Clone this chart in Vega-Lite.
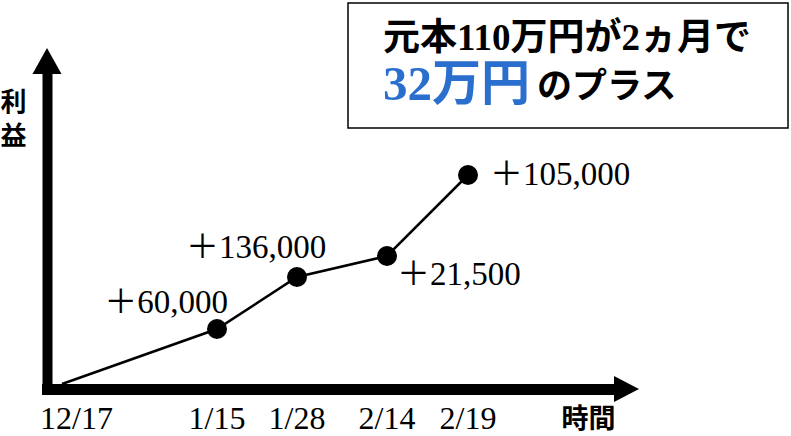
{
  "$schema": "https://vega.github.io/schema/vega-lite/v6.json",
  "description": "元本110万円が2ヵ月で32万円のプラス",
  "width": 568,
  "height": 315,
  "autosize": {"type": "none"},
  "padding": {"left": 47, "top": 74, "right": 176, "bottom": 47},
  "background": "white",
  "config": {"view": {"stroke": null}},
  "data": {
    "values": [
      {"kind": "profit", "date": "12/17", "pos": 15, "level": 5, "gain": ""},
      {"kind": "profit", "date": "1/15", "pos": 170, "level": 60, "gain": "＋60,000"},
      {"kind": "profit", "date": "1/28", "pos": 250, "level": 112, "gain": "＋136,000"},
      {"kind": "profit", "date": "2/14", "pos": 340, "level": 133, "gain": "＋21,500"},
      {"kind": "profit", "date": "2/19", "pos": 421, "level": 214, "gain": "＋105,000"},
      {"kind": "note", "id": "line1", "text": "元本110万円が2ヵ月で"},
      {"kind": "note", "id": "amount", "text": "32万円"},
      {"kind": "note", "id": "tail", "text": "のプラス"}
    ]
  },
  "layer": [
    {
      "transform": [{"filter": "datum.id == 'line1'"}],
      "mark": {"type": "rect", "fill": "white", "stroke": "black", "strokeWidth": 1.5},
      "encoding": {
        "x": {"datum": 301}, "x2": {"datum": 741},
        "y": {"datum": 386}, "y2": {"datum": 261}
      }
    },
    {
      "transform": [{"filter": "datum.id == 'line1'"}],
      "mark": {"type": "text", "align": "left", "baseline": "alphabetic", "font": "Liberation Serif, Noto Sans CJK JP", "fontSize": 37, "fontWeight": "bold", "color": "black"},
      "encoding": {"x": {"datum": 336}, "y": {"datum": 339}, "text": {"field": "text"}}
    },
    {
      "transform": [{"filter": "datum.id == 'amount'"}],
      "mark": {"type": "text", "align": "left", "baseline": "alphabetic", "font": "Liberation Serif, Noto Sans CJK JP", "fontSize": 49, "fontWeight": "bold", "color": "#2b6fce"},
      "encoding": {"x": {"datum": 336}, "y": {"datum": 289}, "text": {"field": "text"}}
    },
    {
      "transform": [{"filter": "datum.id == 'tail'"}],
      "mark": {"type": "text", "align": "left", "baseline": "alphabetic", "font": "Noto Sans CJK JP", "fontSize": 35, "fontWeight": "bold", "color": "black"},
      "encoding": {"x": {"datum": 490}, "y": {"datum": 291}, "text": {"field": "text"}}
    },
    {
      "transform": [{"filter": "datum.kind == 'profit'"}],
      "mark": {"type": "line", "color": "black", "strokeWidth": 2.5},
      "encoding": {
        "x": {
          "field": "pos", "type": "quantitative", "title": "時間",
          "scale": {"domain": [0, 568], "nice": false, "zero": false},
          "axis": {
            "labels": false, "ticks": false, "grid": false,
            "domainColor": "black", "domainWidth": 11, "domainCap": "square",
            "titleFont": "Noto Sans CJK JP", "titleFontSize": 27, "titleFontWeight": "bold",
            "titleColor": "black", "titleAlign": "center", "titleBaseline": "alphabetic",
            "titleX": 541, "titleY": 38
          }
        },
        "y": {
          "field": "level", "type": "quantitative", "title": ["利", "益"],
          "scale": {"domain": [0, 315], "nice": false, "zero": false},
          "axis": {
            "labels": false, "ticks": false, "grid": false,
            "domainColor": "black", "domainWidth": 10, "domainCap": "square",
            "titleFont": "Noto Sans CJK JP", "titleFontSize": 26, "titleFontWeight": "bold",
            "titleColor": "black", "titleAngle": 0, "titleAlign": "center", "titleBaseline": "alphabetic",
            "titleLineHeight": 34, "titleX": -34, "titleY": 36
          }
        }
      }
    },
    {
      "transform": [{"filter": "datum.kind == 'profit' && datum.gain != ''"}],
      "mark": {"type": "point", "shape": "circle", "filled": true, "opacity": 1, "color": "black", "size": 400},
      "encoding": {
        "x": {"field": "pos", "type": "quantitative", "title": "時間"},
        "y": {"field": "level", "type": "quantitative", "title": ["利", "益"]}
      }
    },
    {
      "transform": [{"filter": "datum.date == '1/15'"}],
      "mark": {"type": "text", "align": "center", "baseline": "alphabetic", "dx": -51, "dy": -16, "font": "Liberation Serif, Noto Sans CJK JP", "fontSize": 33, "color": "black"},
      "encoding": {
        "x": {"field": "pos", "type": "quantitative", "title": "時間"},
        "y": {"field": "level", "type": "quantitative", "title": ["利", "益"]},
        "text": {"field": "gain"}
      }
    },
    {
      "transform": [{"filter": "datum.date == '1/28'"}],
      "mark": {"type": "text", "align": "center", "baseline": "alphabetic", "dx": -41, "dy": -19, "font": "Liberation Serif, Noto Sans CJK JP", "fontSize": 33, "color": "black"},
      "encoding": {
        "x": {"field": "pos", "type": "quantitative", "title": "時間"},
        "y": {"field": "level", "type": "quantitative", "title": ["利", "益"]},
        "text": {"field": "gain"}
      }
    },
    {
      "transform": [{"filter": "datum.date == '2/14'"}],
      "mark": {"type": "text", "align": "left", "baseline": "alphabetic", "dx": 10, "dy": 29, "font": "Liberation Serif, Noto Sans CJK JP", "fontSize": 33, "color": "black"},
      "encoding": {
        "x": {"field": "pos", "type": "quantitative", "title": "時間"},
        "y": {"field": "level", "type": "quantitative", "title": ["利", "益"]},
        "text": {"field": "gain"}
      }
    },
    {
      "transform": [{"filter": "datum.date == '2/19'"}],
      "mark": {"type": "text", "align": "left", "baseline": "alphabetic", "dx": 22, "dy": 10, "font": "Liberation Serif, Noto Sans CJK JP", "fontSize": 33, "color": "black"},
      "encoding": {
        "x": {"field": "pos", "type": "quantitative", "title": "時間"},
        "y": {"field": "level", "type": "quantitative", "title": ["利", "益"]},
        "text": {"field": "gain"}
      }
    },
    {
      "transform": [{"filter": "datum.kind == 'profit' && datum.date != '12/17'"}],
      "mark": {"type": "text", "align": "center", "baseline": "alphabetic", "dy": 40, "font": "Liberation Serif", "fontSize": 32, "color": "black"},
      "encoding": {
        "x": {"field": "pos", "type": "quantitative", "title": "時間"},
        "y": {"datum": 0},
        "text": {"field": "date"}
      }
    },
    {
      "transform": [{"filter": "datum.date == '12/17'"}],
      "mark": {"type": "text", "align": "left", "baseline": "alphabetic", "dx": -22, "dy": 40, "font": "Liberation Serif", "fontSize": 32, "color": "black"},
      "encoding": {
        "x": {"field": "pos", "type": "quantitative", "title": "時間"},
        "y": {"datum": 0},
        "text": {"field": "date"}
      }
    },
    {
      "transform": [{"filter": "datum.date == '12/17'"}],
      "mark": {"type": "point", "shape": "M-1,0.9L0,-0.9L1,0.9Z", "filled": true, "opacity": 1, "color": "black", "size": 841, "strokeWidth": 0},
      "encoding": {"x": {"datum": 0}, "y": {"datum": 328}}
    },
    {
      "transform": [{"filter": "datum.date == '12/17'"}],
      "mark": {"type": "point", "shape": "M-0.96,-1L0.96,0L-0.96,1Z", "filled": true, "opacity": 1, "color": "black", "size": 676, "strokeWidth": 0},
      "encoding": {"x": {"datum": 579.5}, "y": {"datum": 0}}
    }
  ]
}
